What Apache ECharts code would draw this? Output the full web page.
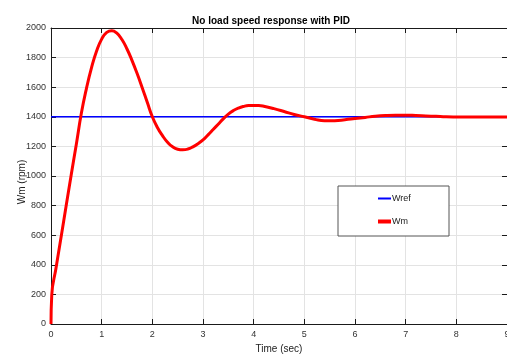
<!DOCTYPE html>
<html>
<head>
<meta charset="utf-8">
<script src="https://cdn.jsdelivr.net/npm/echarts@6/dist/echarts.min.js"></script>
<style>html,body{margin:0;padding:0;background:#fff}#c{width:507px;height:356px}</style>
</head>
<body>
<div id="c"></div>
<script>
const titleText = 'No load speed response with PID';
const xName = 'Time (sec)';
const yName = 'Wm (rpm)';
const seriesNames = ['Wref', 'Wm'];
const timeSec = [0, 0.015, 0.1, 0.2, 0.3, 0.4, 0.5, 0.6, 0.7, 0.8, 0.9, 1.0, 1.1, 1.2, 1.3, 1.4, 1.5, 1.6, 1.7, 1.8, 1.9, 2.0, 2.1, 2.2, 2.3, 2.4, 2.5, 2.6, 2.7, 2.8, 2.9, 3.0, 3.1, 3.2, 3.3, 3.4, 3.5, 3.6, 3.7, 3.8, 3.9, 4.0, 4.1, 4.2, 4.4, 4.6, 4.8, 5.0, 5.2, 5.4, 5.6, 5.8, 6.0, 6.2, 6.4, 6.6, 6.8, 7.0, 7.2, 7.4, 7.6, 7.8, 8.0, 8.5, 9.0];
const wmRpm = [0, 196, 380, 590, 800, 1010, 1215, 1425, 1592, 1732, 1845, 1925, 1970, 1982, 1965, 1922, 1858, 1780, 1692, 1597, 1498, 1400, 1328, 1273, 1228, 1197, 1181, 1177, 1182, 1197, 1218, 1244, 1278, 1314, 1350, 1386, 1418, 1442, 1459, 1470, 1476, 1477, 1476, 1471, 1455, 1436, 1416, 1400, 1384, 1373, 1374, 1380, 1388, 1396, 1404, 1409, 1411, 1411, 1409, 1406, 1403, 1400, 1399, 1398, 1399];
const wrefRpm = [1400, 1400];
const wrefTime = [0, 9];
const xTicks = {min: 0, max: 9, interval: 1};
const yTicks = {min: 0, max: 2000, interval: 200};

const font = '"Liberation Sans", Arial, sans-serif';
const chart = echarts.init(document.getElementById('c'));
const axisLine = {show: true, onZero: false, lineStyle: {color: '#1a1a1a', width: 1}};
const tick = {show: true, inside: true, length: 5, lineStyle: {color: '#1a1a1a'}};
const legendCommon = {
  orient: 'vertical', left: 378, itemWidth: 13, itemGap: 0, padding: 0, z: 6,
  textStyle: {fontFamily: font, fontSize: 9, color: '#222', padding: [0, 0, 0, -4]}
};
chart.setOption({
  animation: false,
  backgroundColor: '#fff',
  title: {
    text: titleText, left: 266, top: 11, textAlign: 'center',
    textStyle: {fontFamily: font, fontSize: 10, fontWeight: 'bold', color: '#000'}
  },
  grid: {left: 51, right: 0, top: 28, bottom: 32, outerBoundsMode: 'none', containLabel: false},
  legend: [
    Object.assign({}, legendCommon, {data: [{name: seriesNames[0], icon: 'rect'}], top: 194, itemHeight: 2, itemStyle: {color: '#0000ff'}}),
    Object.assign({}, legendCommon, {data: [{name: seriesNames[1], icon: 'rect'}], top: 217, itemHeight: 4, itemStyle: {color: '#ff0000'}})
  ],
  xAxis: [{
    type: 'value', min: xTicks.min, max: xTicks.max, interval: xTicks.interval,
    name: xName, nameLocation: 'middle', nameGap: 20,
    nameTextStyle: {fontFamily: font, fontSize: 10, color: '#222'},
    axisLine: axisLine, axisTick: tick,
    axisLabel: {fontFamily: font, fontSize: 9, color: '#333', margin: 6},
    splitLine: {show: true, lineStyle: {color: '#e3e3e3', width: 1}}
  }, {
    type: 'value', position: 'top', min: xTicks.min, max: xTicks.max, interval: xTicks.interval,
    axisLine: axisLine, axisTick: tick, axisLabel: {show: false}, splitLine: {show: false}
  }],
  yAxis: [{
    type: 'value', min: yTicks.min, max: yTicks.max, interval: yTicks.interval,
    axisLine: axisLine, axisTick: tick,
    axisLabel: {fontFamily: font, fontSize: 9, color: '#333', margin: 5, formatter: v => String(v)},
    splitLine: {show: true, lineStyle: {color: '#e3e3e3', width: 1}}
  }, {
    type: 'value', position: 'right', min: yTicks.min, max: yTicks.max, interval: yTicks.interval,
    axisLine: axisLine, axisTick: tick, axisLabel: {show: false}, splitLine: {show: false}
  }],
  graphic: [{
    type: 'rect', shape: {x: 338, y: 186, width: 111, height: 50}, z: 5,
    style: {fill: '#fff', stroke: '#555', lineWidth: 1}
  }, {
    type: 'text', x: 22, y: 182, rotation: Math.PI / 2,
    style: {text: yName, fontFamily: font, fontSize: 10, fill: '#222', align: 'center', verticalAlign: 'middle'}
  }],
  series: [{
    name: seriesNames[0], type: 'line', symbol: 'none',
    data: wrefTime.map((t, i) => [t, wrefRpm[i]]),
    lineStyle: {color: '#0000ff', width: 1.5}, itemStyle: {color: '#0000ff'}
  }, {
    name: seriesNames[1], type: 'line', symbol: 'none', smooth: 0.5,
    data: timeSec.map((t, i) => [t, wmRpm[i]]),
    lineStyle: {color: '#ff0000', width: 3}, itemStyle: {color: '#ff0000'}
  }]
});
</script>
</body>
</html>
